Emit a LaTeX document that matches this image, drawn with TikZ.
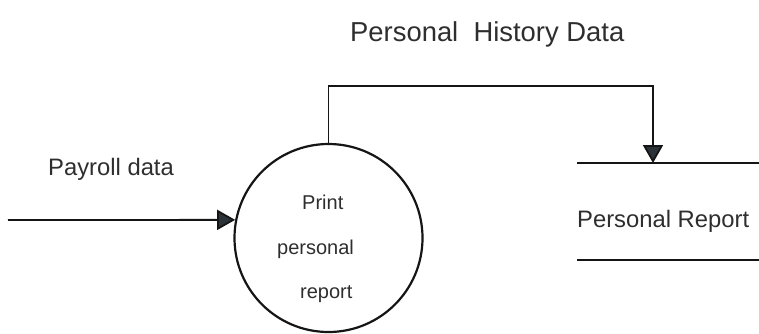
\documentclass[tikz,border=0pt]{standalone}
\usepackage{fontspec}
\setmainfont{Liberation Sans}
\usetikzlibrary{arrows.meta}
\definecolor{ink}{HTML}{151515}
\definecolor{txt}{HTML}{2E2E2E}
\definecolor{tip}{HTML}{2C3338}
\tikzset{
  flow/.style={draw=ink, line width=1.8pt, -{Triangle[length=18pt,width=20pt,fill=tip]}},
  wire/.style={draw=ink, line width=1.8pt},
  process/.style={circle, draw=ink, line width=2.2pt, minimum size=188pt, inner sep=0pt},
  label/.style={text=txt, inner sep=0pt, anchor=base west},
}
\begin{document}
\begin{tikzpicture}[x=1pt, y=-1pt]
  \useasboundingbox (0,0) rectangle (759,333);
  % process bubble and its three text lines
  \node[process] (proc) at (328.5,238) {};
  \node[label, font=\fontsize{20}{24}\selectfont] (l1) at (302,209) {Print};
  \node[label, font=\fontsize{20}{24}\selectfont] (l2) at (277,254) {personal};
  \node[label, font=\fontsize{20}{24}\selectfont] (l3) at (300,298) {report};
  % data store: two parallel lines with its name between them
  \coordinate (stTL) at (577,163);
  \coordinate (stTR) at (759,163);
  \coordinate (stBL) at (577,260);
  \coordinate (stBR) at (759,260);
  \coordinate (stIn) at (653,163);
  \draw[wire] (stTL) -- (stTR);
  \draw[wire] (stBL) -- (stBR);
  \node[label, font=\fontsize{23.8}{28}\selectfont] (store) at (577,227) {Personal Report};
  % incoming payroll flow
  \coordinate (src) at (8,220);
  \draw[flow] (src) -- (proc.169);
  \node[label, font=\fontsize{23.8}{28}\selectfont] (pay) at (48,175) {Payroll data};
  % history flow from the bubble to the store
  \coordinate (bend) at (328.5,86);
  \draw[flow] (proc.north) -- (bend) -| (stIn);
  \node[label, font=\fontsize{27.4}{31}\selectfont] (hist) at (350,41) {Personal\ \ History Data};
\end{tikzpicture}
\end{document}
